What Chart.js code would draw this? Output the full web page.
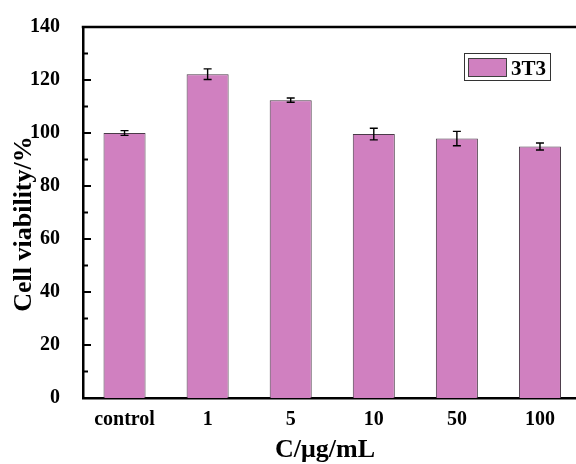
<!DOCTYPE html>
<html>
<head>
<meta charset="utf-8">
<script src="https://cdn.jsdelivr.net/npm/chart.js@4.4.1/dist/chart.umd.min.js"></script>
<style>
  html, body { margin: 0; padding: 0; background: #fff; overflow: hidden; }
  #wrap { width: 600px; height: 464px; }
</style>
</head>
<body>
<div id="wrap"><canvas id="cellChart" width="600" height="464"></canvas></div>
<script>
const categories = ["control", "1", "5", "10", "50", "100"];
const viability = [100, 122.2, 112.4, 99.6, 97.9, 94.9];
const errors = [0.9, 2.0, 0.8, 2.2, 2.7, 1.3];
const yTicks = [0, 20, 40, 60, 80, 100, 120, 140];
const seriesName = "3T3";
const xTitle = "C/μg/mL";
const yTitle = "Cell viability/%";

const FONT = "'Liberation Serif', 'Times New Roman', serif";
const BAR_COLOR = "#d080c0";

// error bars, inward ticks, legend box, axis titles and top frame line
const extras = {
  id: "extras",
  afterDatasetsDraw(chart) {
    const { ctx, chartArea, scales } = chart;
    const y = scales.y;
    const meta = chart.getDatasetMeta(0);
    ctx.save();
    ctx.strokeStyle = "#000";
    ctx.lineWidth = 1.4;
    meta.data.forEach((bar, i) => {
      const top = y.getPixelForValue(viability[i] + errors[i]);
      const bot = y.getPixelForValue(viability[i] - errors[i]);
      ctx.beginPath();
      ctx.moveTo(bar.x, top); ctx.lineTo(bar.x, bot);
      ctx.moveTo(bar.x - 4, top); ctx.lineTo(bar.x + 4, top);
      ctx.moveTo(bar.x - 4, bot); ctx.lineTo(bar.x + 4, bot);
      ctx.stroke();
    });

    // inward ticks on the left axis
    ctx.lineWidth = 2;
    for (let v = 10; v < 140; v += 10) {
      const py = y.getPixelForValue(v);
      const len = v % 20 === 0 ? 8 : 5;
      ctx.beginPath();
      ctx.moveTo(chartArea.left, py); ctx.lineTo(chartArea.left + len, py);
      ctx.stroke();
    }

    // top frame line
    ctx.lineWidth = 2.5;
    ctx.beginPath();
    ctx.moveTo(chartArea.left - 1.25, chartArea.top);
    ctx.lineTo(chartArea.right + 10, chartArea.top);
    ctx.stroke();

    // legend
    ctx.lineWidth = 1;
    ctx.strokeStyle = "#333";
    ctx.fillStyle = "#fff";
    ctx.fillRect(464.5, 53.5, 86, 27);
    ctx.strokeRect(464.5, 53.5, 86, 27);
    ctx.fillStyle = BAR_COLOR;
    ctx.fillRect(468.5, 58.5, 38, 18);
    ctx.strokeStyle = "#404040";
    ctx.strokeRect(468.5, 58.5, 38, 18);
    ctx.fillStyle = "#000";
    ctx.font = "bold 21px " + FONT;
    ctx.textBaseline = "alphabetic";
    ctx.textAlign = "left";
    ctx.fillText(seriesName, 511, 75);

    // axis titles
    ctx.font = "bold 26px " + FONT;
    ctx.textAlign = "center";
    ctx.fillText(xTitle, 325, 457);
    ctx.translate(31, 224);
    ctx.rotate(-Math.PI / 2);
    ctx.fillText(yTitle, 0, 0);
    ctx.restore();
  }
};

new Chart(document.getElementById("cellChart"), {
  type: "bar",
  data: {
    labels: categories,
    datasets: [
      {
        label: seriesName,
        data: viability,
        backgroundColor: BAR_COLOR,
        borderColor: "#4a3a48",
        borderWidth: 1,
        barPercentage: 0.506,
        categoryPercentage: 1,
      },
    ],
  },
  options: {
    responsive: false,
    animation: false,
    layout: { padding: { top: 25, right: 18.5, left: 0, bottom: 0 } },
    plugins: { legend: { display: false }, tooltip: { enabled: false } },
    scales: {
      x: {
        grid: { display: false },
        border: { display: true, color: "#000", width: 2.5 },
        ticks: { color: "#000", padding: 2, maxRotation: 0, font: { family: FONT, size: 20, weight: "bold" } },
        afterFit(scale) { scale.height = 66; },
      },
      y: {
        min: 0,
        max: 140,
        afterBuildTicks(scale) { scale.ticks = yTicks.map(v => ({ value: v })); },
        grid: { display: false },
        border: { display: true, color: "#000", width: 2.5 },
        ticks: { color: "#000", padding: 15, font: { family: FONT, size: 20, weight: "bold" } },
        afterFit(scale) { scale.width = 83; },
      },
    },
  },
  plugins: [extras],
});
</script>
</body>
</html>
